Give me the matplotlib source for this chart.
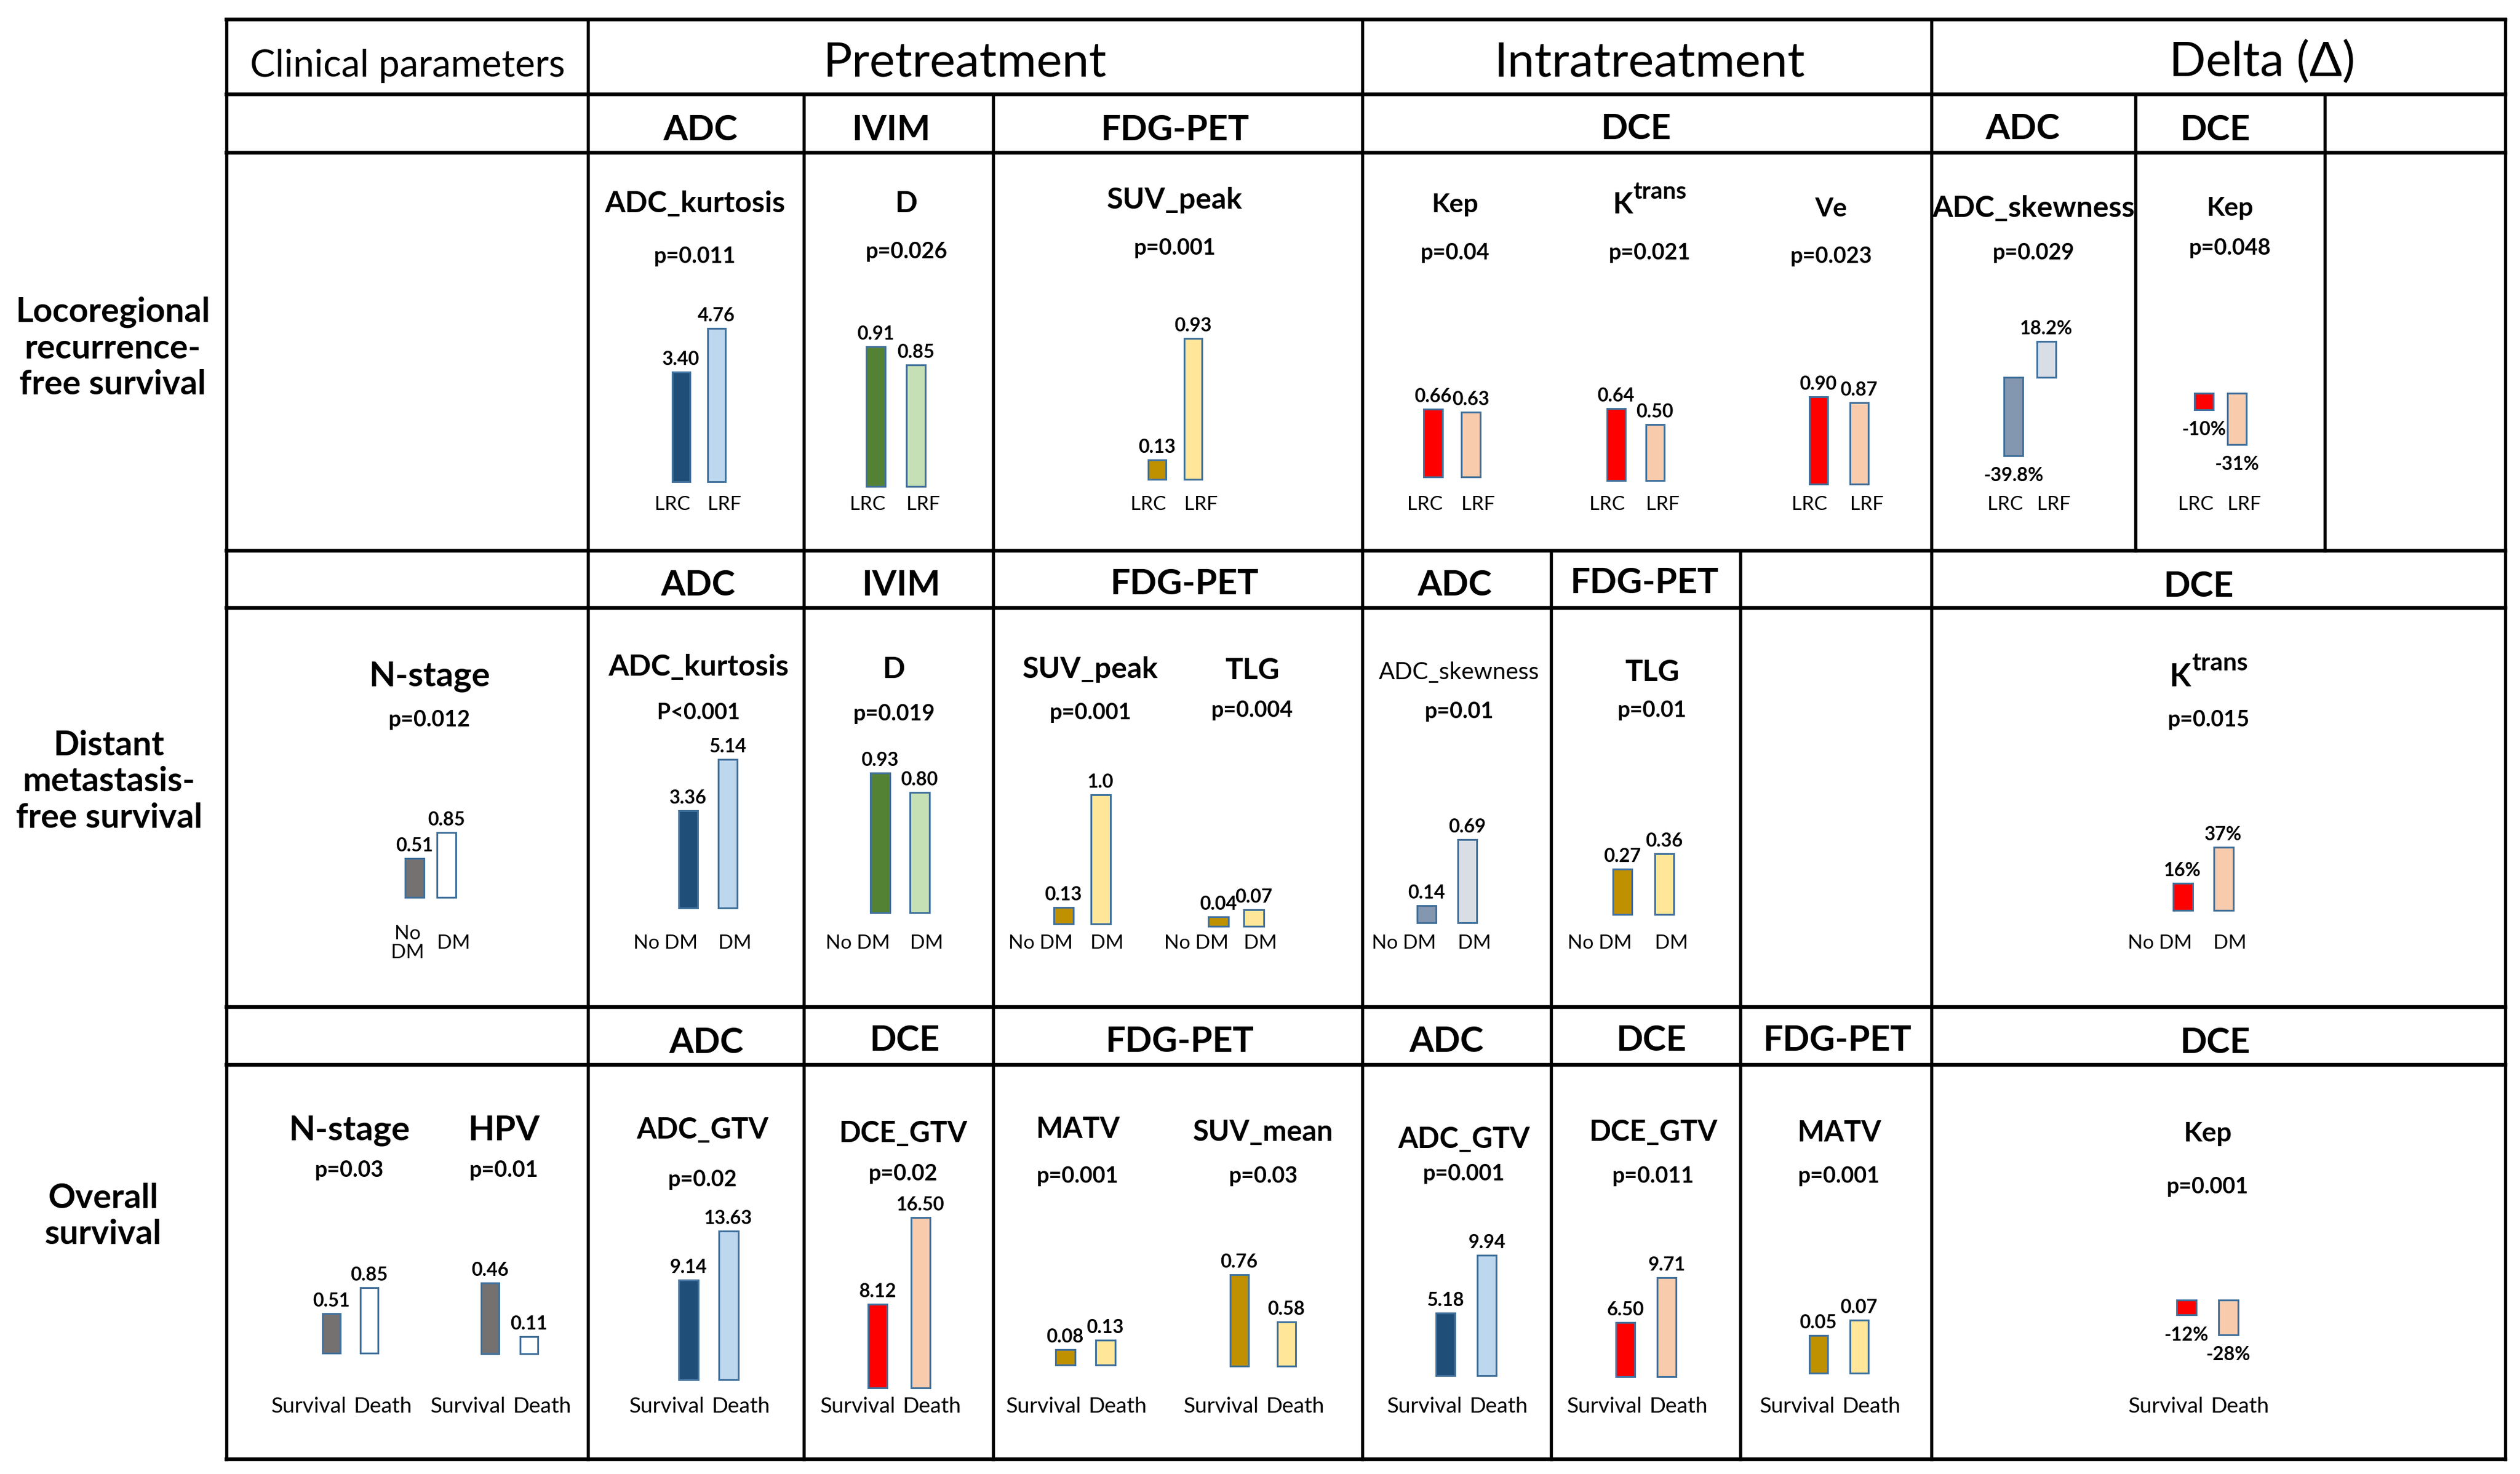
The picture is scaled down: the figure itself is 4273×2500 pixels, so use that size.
import numpy as np
import matplotlib
matplotlib.use("Agg")
import matplotlib.pyplot as plt
from matplotlib import transforms

W, H, DPI = 4273, 2500, 100
plt.rcParams['font.family'] = ['Lato', 'DejaVu Sans']

# ---------------- data ----------------
header_labels = ["Clinical parameters", "Pretreatment", "Intratreatment", "Delta (Δ)"]
row_labels = ["Locoregional\nrecurrence-\nfree survival",
              "Distant\nmetastasis-\nfree survival",
              "Overall\nsurvival"]

r1_modalities = ["ADC", "IVIM", "FDG-PET", "DCE", "ADC", "DCE"]
r2_modalities = ["ADC", "IVIM", "FDG-PET", "ADC", "FDG-PET", "DCE"]
r3_modalities = ["ADC", "DCE", "FDG-PET", "ADC", "DCE", "FDG-PET", "DCE"]

r1_groups = [["LRC", "LRF"]] * 8
r2_groups = [["No\nDM", "DM"]] + [["No DM", "DM"]] * 7
r3_groups = [["Survival", "Death"]] * 10

# parameter names; (base, superscript) pairs are drawn as superscripted text
r1_params = ["ADC_kurtosis", "D", "SUV_peak", "Kep", ("K", "trans"), "Ve", "ADC_skewness", "Kep"]
r1_pvalues = ["p=0.011", "p=0.026", "p=0.001", "p=0.04", "p=0.021", "p=0.023", "p=0.029", "p=0.048"]
r1_values = [[3.40, 4.76], [0.91, 0.85], [0.13, 0.93], [0.66, 0.63], [0.64, 0.50],
             [0.90, 0.87], [-39.8, 18.2], [-10, -31]]
r1_value_text = [["3.40", "4.76"], ["0.91", "0.85"], ["0.13", "0.93"], ["0.66", "0.63"],
                 ["0.64", "0.50"], ["0.90", "0.87"], ["-39.8%", "18.2%"], ["-10%", "-31%"]]

r2_params = ["N-stage", "ADC_kurtosis", "D", "SUV_peak", "TLG", "ADC_skewness", "TLG", ("K", "trans")]
r2_pvalues = ["p=0.012", "P<0.001", "p=0.019", "p=0.001", "p=0.004", "p=0.01", "p=0.01", "p=0.015"]
r2_values = [[0.51, 0.85], [3.36, 5.14], [0.93, 0.80], [0.13, 1.0], [0.04, 0.07],
             [0.14, 0.69], [0.27, 0.36], [16, 37]]
r2_value_text = [["0.51", "0.85"], ["3.36", "5.14"], ["0.93", "0.80"], ["0.13", "1.0"],
                 ["0.04", "0.07"], ["0.14", "0.69"], ["0.27", "0.36"], ["16%", "37%"]]

r3_params = ["N-stage", "HPV", "ADC_GTV", "DCE_GTV", "MATV", "SUV_mean", "ADC_GTV", "DCE_GTV", "MATV", "Kep"]
r3_pvalues = ["p=0.03", "p=0.01", "p=0.02", "p=0.02", "p=0.001", "p=0.03", "p=0.001", "p=0.011",
              "p=0.001", "p=0.001"]
r3_values = [[0.51, 0.85], [0.46, 0.11], [9.14, 13.63], [8.12, 16.50], [0.08, 0.13],
             [0.76, 0.58], [5.18, 9.94], [6.50, 9.71], [0.05, 0.07], [-12, -28]]
r3_value_text = [["0.51", "0.85"], ["0.46", "0.11"], ["9.14", "13.63"], ["8.12", "16.50"],
                 ["0.08", "0.13"], ["0.76", "0.58"], ["5.18", "9.94"], ["6.50", "9.71"],
                 ["0.05", "0.07"], ["-12%", "-28%"]]

# ---------------- styles ----------------
PAL = {'clin': ('#767171', '#FFFFFF'), 'adc': ('#1F4E79', '#BDD7EE'),
       'ivim': ('#548235', '#C5E0B4'), 'pet': ('#BF9000', '#FFE699'),
       'dce': ('#FF0000', '#F8CBAD'), 'dadc': ('#8497B0', '#D9DEE6')}
EDGE = '#41719C'
r1_pal = ['adc', 'ivim', 'pet', 'dce', 'dce', 'dce', 'dadc', 'dce']
r2_pal = ['clin', 'adc', 'ivim', 'pet', 'pet', 'dadc', 'pet', 'dce']
r3_pal = ['clin', 'clin', 'adc', 'dce', 'pet', 'pet', 'adc', 'dce', 'pet', 'dce']

r1_tstyle = [(36, 'bold'), (36, 'bold'), (36, 'bold'), (32, 'bold'), (36, 'bold'), (32, 'bold'),
             (36, 'bold'), (32, 'bold')]
r2_tstyle = [(42, 'bold'), (36, 'bold'), (36, 'bold'), (36, 'bold'), (36, 'bold'), (29, 'normal'),
             (36, 'bold'), (38, 'bold')]
r3_tstyle = [(42, 'bold'), (42, 'bold'), (35, 'bold'), (35, 'bold'), (35, 'bold'), (35, 'bold'),
             (35, 'bold'), (35, 'bold'), (35, 'bold'), (33, 'bold')]

# ---------------- layout (pixels) ----------------
X_L, X_R = 384, 4248
H_LINES = [33, 160, 259, 934, 1031, 1708, 1806, 2475]
V_LINES = [(384, 33, 2475), (997, 33, 2475), (1363, 160, 2475), (1684, 160, 2475),
           (2310, 33, 2475), (2630, 934, 2475), (2951, 934, 2475), (3275, 33, 2475),
           (3621, 160, 934), (3942, 160, 934), (4248, 33, 2475)]
header_pos = [(691, 107, 46, 'normal'), (1636, 100, 59, 'normal'),
              (2797, 100, 59, 'normal'), (3836, 100, 59, 'normal')]
row_label_pos = [(191, 591), (185, 1326), (175, 2063)]
r1_mod_pos = [(1188, 217), (1511, 217), (1992, 217), (2774, 215), (3430, 215), (3756, 217)]
r2_mod_pos = [(1184, 989), (1528, 989), (2008, 986), (2467, 989), (2788, 985), (3728, 991)]
r3_mod_pos = [(1198, 1764), (1534, 1760), (2000, 1762), (2453, 1762), (2800, 1760),
              (3115, 1760), (3756, 1764)]
row_body = [(259, 934), (1031, 1708), (1806, 2475)]
row_cat_y = [856, 1600, 2386]
row_cat_size = [24, 24, 26.5]
row_cat_mode = ['bar', 'bar', 'mid']   # group-label anchoring
MID_GAP = 12

# (c1, c2, bar width, baseline y, px per unit, base value, title x, title y, p y)
r1_layout = [(1155, 1215, 30, 817, 54.6, 0, 1178, 342, 433),
             (1485, 1553, 32, 825, 515, 0.45, 1537, 342, 424),
             (1962, 2023, 30, 813, 257, 0, 1992, 336, 418),
             (2430, 2494, 32, 809, 174, 0, 2467, 344, 427),
             (2740, 2806, 31, 815, 190, 0, 2797, 344, 427),
             (3083, 3152, 31, 821, 329, 0.45, 3105, 351, 433),
             (3414, 3470, 32, 640, 3.33, 0, 3448, 350, 427),
             (3737, 3793, 32, 667, 2.8, 0, 3781, 350, 419)]
r2_layout = [(703, 757, 32, 1522, 129, 0, 728, 1142, 1218),
             (1167, 1234, 32, 1540, 49, 0, 1184, 1128, 1207),
             (1492, 1559, 33, 1548, 255, 0, 1516, 1132, 1208),
             (1803, 1866, 33, 1567, 219, 0, 1849, 1132, 1207),
             (2066, 2126, 34, 1571, 400, 0, 2123, 1134, 1203),
             (2419, 2488, 32, 1565, 205, 0, 2474, 1137, 1205),
             (2751, 2822, 32, 1551, 285, 0, 2801, 1137, 1202),
             (3701, 3770, 33, 1544, 2.9, 0, 3745, 1145, 1218)]
r3_layout = [(562, 626, 30, 2295, 131, 0, 592, 1912, 1983),
             (831, 897, 30, 2296, 260, 0, 854, 1913, 1983),
             (1167, 1235, 33, 2340, 18.5, 0, 1191, 1914, 1998),
             (1488, 1561, 32, 2354, 17.5, 0, 1531, 1919, 1988),
             (1806, 1874, 33, 2315, 320, 0, 1827, 1913, 1993),
             (2101, 2181, 31, 2317, 443, 0.41, 2142, 1918, 1992),
             (2451, 2521, 32, 2333, 20.5, 0, 2482, 1930, 1988),
             (2756, 2826, 32, 2335, 23.6, 2.6, 2803, 1917, 1992),
             (3083, 3152, 31, 2329, 1280, 0, 3118, 1919, 1992),
             (3707, 3778, 33, 2205, 2.1, 0, 3743, 1919, 2010)]

# ---------------- drawing ----------------
fig = plt.figure(figsize=(W / DPI, H / DPI), dpi=DPI)
fig.patch.set_facecolor('white')
bg = fig.add_axes([0, 0, 1, 1])
bg.set_xlim(0, W)
bg.set_ylim(H, 0)
bg.axis('off')
renderer = fig.canvas.get_renderer()

for y in H_LINES:
    bg.plot([X_L, X_R], [y, y], color='black', lw=4.6, solid_capstyle='projecting', zorder=3)
for x, y0, y1 in V_LINES:
    bg.plot([x, x], [y0, y1], color='black', lw=3.9, solid_capstyle='projecting', zorder=3)


def put(x, yc, s, size, weight='bold'):
    if isinstance(s, tuple):
        base_s, sup_s = s
        yb = yc + 0.5 * size
        k = bg.text(0, yb, base_s, fontsize=size, fontweight=weight, ha='left', va='baseline')
        t = bg.text(0, yb - 0.7 * size, sup_s, fontsize=0.8 * size, fontweight=weight,
                    ha='left', va='baseline')
        wk = k.get_window_extent(renderer).width
        wt = t.get_window_extent(renderer).width
        x0 = x - (wk + wt) / 2
        k.set_x(x0)
        t.set_x(x0 + wk + 1)
        return
    bg.text(x, yc + 0.5 * size, s, fontsize=size, fontweight=weight,
            ha='center', va='baseline', color='black')


for (x, y, s, w), lab in zip(header_pos, header_labels):
    put(x, y, lab, s, w)
for (x, y), lab in zip(row_label_pos, row_labels):
    bg.text(x, y, lab, fontsize=41.5, fontweight='bold', ha='center', va='center',
            linespacing=1.2, multialignment='center')
for pos, mods in ((r1_mod_pos, r1_modalities), (r2_mod_pos, r2_modalities),
                  (r3_mod_pos, r3_modalities)):
    for (x, y), m in zip(pos, mods):
        put(x, y, m, 43, 'bold')


def mini_chart(lay, vals, texts, pal, groups, body, cat_y, cat_size, mode, tstyle, title, pval):
    c1, c2, bw, y0, ppu, base, tx, ty, py = lay
    ytop, ybot = body
    span = c2 - c1
    pad = 130
    x0, x1 = c1 - pad, c2 + pad
    ax = fig.add_axes([x0 / W, 1 - ybot / H, (x1 - x0) / W, (ybot - ytop) / H])
    ax.patch.set_visible(False)
    ax.axis('off')
    ax.set_xlim(-pad / span, 1 + pad / span)
    ax.set_ylim(base - (ybot - y0) / ppu, base + (y0 - ytop) / ppu)
    v = np.asarray(vals, dtype=float)
    ax.bar([0, 1], v - base, bottom=base, width=bw / span, color=PAL[pal],
           edgecolor=EDGE, linewidth=2.2, zorder=2)
    for i, (val, t) in enumerate(zip(v, texts)):
        if val >= 0:
            ax.annotate(t, (i, val), xytext=(0, 5), textcoords='offset points',
                        ha='center', va='bottom', fontsize=23, fontweight='bold')
        else:
            ax.annotate(t, (i, val), xytext=(0, -14), textcoords='offset points',
                        ha='center', va='top', fontsize=23, fontweight='bold')
    tr = transforms.blended_transform_factory(ax.transData, bg.transData)
    if mode == 'bar':
        a1, a2 = (bw / 2) / span, 1 - (bw / 2) / span
    else:
        a1, a2 = 0.5 - (MID_GAP / 2) / span, 0.5 + (MID_GAP / 2) / span
    ax.text(a1, cat_y, groups[0], transform=tr, ha='right', va='center',
            fontsize=cat_size, multialignment='center', linespacing=1.1)
    ax.text(a2, cat_y, groups[1], transform=tr, ha='left', va='center', fontsize=cat_size)
    put(tx, ty, title, tstyle[0], tstyle[1])
    put(tx, py, pval, 27, 'bold')


rows = [(r1_layout, r1_values, r1_value_text, r1_pal, r1_groups, r1_tstyle, r1_params, r1_pvalues),
        (r2_layout, r2_values, r2_value_text, r2_pal, r2_groups, r2_tstyle, r2_params, r2_pvalues),
        (r3_layout, r3_values, r3_value_text, r3_pal, r3_groups, r3_tstyle, r3_params, r3_pvalues)]
for r, (lays, vals, txts, pals, grps, tsts, pars, pvs) in enumerate(rows):
    for k in range(len(lays)):
        mini_chart(lays[k], vals[k], txts[k], pals[k], grps[k], row_body[r], row_cat_y[r],
                   row_cat_size[r], row_cat_mode[r], tsts[k], pars[k], pvs[k])

fig.savefig('out.png', dpi=DPI, facecolor='white')
